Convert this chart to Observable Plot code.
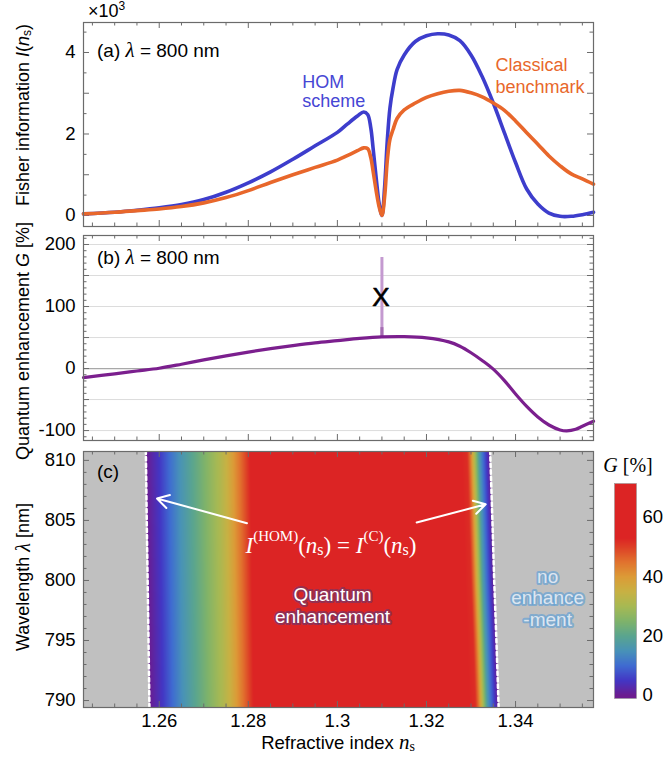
<!DOCTYPE html>
<html><head><meta charset="utf-8">
<script src="https://cdn.jsdelivr.net/npm/d3@7"></script>
<script src="https://cdn.jsdelivr.net/npm/@observablehq/plot@0.6"></script>
<style>
body{margin:0;background:#fff;}
#wrap{position:relative;width:663px;height:760px;overflow:hidden;background:#fff}
#wrap svg{position:absolute;}
</style></head><body><div id="wrap"></div>
<script>
// ---------------- data ----------------
const nA = [1.243,1.25,1.255,1.26,1.265,1.27,1.275,1.28,1.285,1.29,1.295,1.30,1.3022,1.3045,1.3059,1.3068,1.3075,1.308,1.3087,1.3094,1.31,1.3106,1.3112,1.3118,1.3125,1.3134,1.315,1.3175,1.32,1.3225,1.325,1.3275,1.33,1.3325,1.335,1.3375,1.34,1.3425,1.345,1.3475,1.35,1.3525,1.355,1.3575];
const fisherHOM = [0.04,0.08,0.13,0.19,0.27,0.39,0.57,0.80,1.07,1.38,1.71,2.04,2.24,2.44,2.54,2.48,2.15,1.67,0.93,0.28,0.00,0.69,1.83,2.64,3.13,3.58,3.94,4.27,4.41,4.46,4.43,4.29,3.94,3.41,2.76,2.03,1.30,0.65,0.28,0.06,-0.02,-0.02,0.02,0.08];
const fisherClassical = [0.04,0.08,0.12,0.16,0.22,0.31,0.44,0.61,0.81,1.00,1.18,1.36,1.47,1.59,1.66,1.64,1.42,1.10,0.61,0.20,0.00,0.45,1.34,1.87,2.11,2.38,2.59,2.76,2.90,2.99,3.05,3.07,3.01,2.91,2.76,2.58,2.32,2.03,1.75,1.46,1.22,1.02,0.90,0.77];

const nB = [1.243,1.25,1.255,1.26,1.265,1.27,1.275,1.28,1.285,1.29,1.295,1.30,1.305,1.31,1.315,1.32,1.325,1.3275,1.33,1.3325,1.335,1.3375,1.34,1.3425,1.345,1.3475,1.35,1.3515,1.3535,1.355,1.3575];
const gainG = [-14.5,-8.5,-4,0.5,7,14,20.5,26.5,32,37,41.5,45,48.5,51,51.5,49.5,43,36,25.5,13,-1,-19.5,-41,-61,-78,-91,-99,-100.5,-98,-93,-85];
const spikeN = [1.31];
const spikeRange = [51, 179];
const spikeCore = [51, 66];

const heatLambda = [789.42, 795, 800, 805, 810.74];
const edgeLeft  = [1.2578, 1.2576, 1.2574, 1.2572, 1.2570];
const edgeRight = [1.3362, 1.3357, 1.3352, 1.3348, 1.3343];
const leftBandOffset = [0,0.0030,0.0052,0.0075,0.0098,0.0121,0.0143,0.0165,0.0181,0.0196,0.0211,0.0223,0.0234];
const leftBandG      = [0,5,10,15,19,23,27,31,35,40,45,49,53];
const plateauN = [1.29, 1.30, 1.31, 1.32];
const plateauG = [60, 66, 66, 60];
const rightBandOffset = [-0.0052,-0.0045,-0.0038,-0.0031,-0.0025,-0.0016,-0.0007,0];
const rightBandG      = [52,45,35,25,17,10,4,0];
const outsideG = -40;

// ticks
const xTickLabels = [1.26, 1.28, 1.3, 1.32, 1.34];
const xTicksMinor = [1.245,1.25,1.255,1.265,1.27,1.275,1.285,1.29,1.295,1.305,1.31,1.315,1.325,1.33,1.335,1.345,1.35,1.355];
const yTickLabelsA = [0, 2, 4];
const yTicksA = [0,1,2,3,4];
const yTickLabelsB = [-100, 0, 100, 200];
const yTicksB = [-100,-50,0,50,100,150,200];
const gridB = [-100,-50,50,100,150,200];
const yTickLabelsC = [790, 795, 800, 805, 810];
const cbTickLabels = [0, 20, 40, 60];

// colour map G [%]
const gStops  = [-40, -0.01, 0, 5, 10, 15, 20, 25, 30, 35, 40, 45, 50, 53, 75];
const gColors = ["#c0c0c0","#c0c0c0","#6c1b8f","#4336c4","#3f6bd1","#4892b8","#5aa58f","#7fb36a","#a7b953","#c8b143","#dc9b37","#e1722e","#dd3f26","#dc2424","#dc2424"];

// ---------------- layout / styles ----------------
const SANS = "Liberation Sans, Arial, Helvetica, sans-serif";
const SERIF = "Liberation Serif, Times New Roman, serif";
const X_DOMAIN = [1.243, 1.3575];
const AX = "#6b6b6b";
const BLUE = "#3d3dcc", BLUE_T = "#4646d4", ORANGE = "#e8672b", PURPLE = "#7b1f8e";
const ML = 83, MR = 70, FW = 663 - ML - MR;

function frameTicks(xMajor, xMinor, yMajor, yMinor, fw, fh) {
  const s = {stroke: AX, strokeWidth: 1};
  const M = 6, m = 3.5;
  return [
    Plot.tickX(xMajor, {x: d => d, insetTop: fh - M, ...s}),
    Plot.tickX(xMajor, {x: d => d, insetBottom: fh - M, ...s}),
    Plot.tickX(xMinor, {x: d => d, insetTop: fh - m, ...s}),
    Plot.tickX(xMinor, {x: d => d, insetBottom: fh - m, ...s}),
    Plot.tickY(yMajor, {y: d => d, insetRight: fw - M, ...s}),
    Plot.tickY(yMajor, {y: d => d, insetLeft: fw - M, ...s}),
    Plot.tickY(yMinor, {y: d => d, insetRight: fw - m, ...s}),
    Plot.tickY(yMinor, {y: d => d, insetLeft: fw - m, ...s})
  ];
}
const yLabels = (arr) => Plot.text(arr, {y: d => d, text: d => String(d), frameAnchor: "left", dx: -8, textAnchor: "end", fontSize: 18.5, fill: "#000"});
const colorOpts = {type: "linear", domain: gStops, range: gColors, interpolate: "rgb", clamp: true};
const wrap = document.getElementById("wrap");
function place(svg, left, top) { svg.style.left = left + "px"; svg.style.top = top + "px"; svg.style.background = "transparent"; svg.style.overflow = "visible"; wrap.appendChild(svg); }

// ---------------- panel (a) ----------------
const rowsA = nA.map((n, i) => ({n, hom: fisherHOM[i], cls: fisherClassical[i]}));
const hA = 230, mtA = 22, mbA = 4;
const plotA = Plot.plot({
  width: 663, height: hA, marginLeft: ML, marginRight: MR, marginTop: mtA, marginBottom: mbA,
  style: {fontFamily: SANS},
  x: {domain: X_DOMAIN, axis: null},
  y: {domain: [-0.27, 4.736], axis: null},
  marks: [
    ...frameTicks(xTickLabels, xTicksMinor, yTicksA, [0.5,1.5,2.5,3.5,4.5], FW, hA - mtA - mbA),
    Plot.line(rowsA, {x: "n", y: "hom", stroke: BLUE, strokeWidth: 3.6, curve: "catmull-rom"}),
    Plot.line(rowsA, {x: "n", y: "cls", stroke: ORANGE, strokeWidth: 3.6, curve: "catmull-rom"}),
    yLabels(yTickLabelsA),
    Plot.text([{n: 1.2921, v: 3.05, t: "HOM\nscheme"}], {x: "n", y: "v", text: "t", textAnchor: "start", fontSize: 18, lineHeight: 1.1, fill: BLUE_T}),
    Plot.text([{n: 1.3355, v: 3.44, t: "Classical\nbenchmark"}], {x: "n", y: "v", text: "t", textAnchor: "start", fontSize: 18, lineHeight: 1.2, fill: ORANGE}),
    Plot.frame({stroke: AX, strokeWidth: 1.2})
  ]
});
place(plotA, 0, 0);

// ---------------- panel (b) ----------------
const rowsB = nB.map((n, i) => ({n, g: gainG[i]}));
const hB = 214, mtB = 5, mbB = 4;
const plotB = Plot.plot({
  width: 663, height: hB, marginLeft: ML, marginRight: MR, marginTop: mtB, marginBottom: mbB,
  style: {fontFamily: SANS},
  x: {domain: X_DOMAIN, axis: null},
  y: {domain: [-116, 214.5], axis: null},
  marks: [
    Plot.ruleY(gridB, {stroke: "#dcdcdc", strokeWidth: 1}),
    Plot.ruleY([0], {stroke: "#a8a8a8", strokeWidth: 1.2}),
    ...frameTicks(xTickLabels, xTicksMinor, yTicksB, d3.range(-110, 215, 10).filter(v => v % 50 !== 0), FW, hB - mtB - mbB),
    Plot.ruleX(spikeN, {y1: spikeRange[0], y2: spikeRange[1], stroke: "#c49ad0", strokeWidth: 3}),
    Plot.ruleX(spikeN, {y1: spikeCore[0], y2: spikeCore[1], stroke: "#a56cb2", strokeWidth: 3}),
    Plot.line(rowsB, {x: "n", y: "g", stroke: PURPLE, strokeWidth: 3.2, curve: "catmull-rom"}),
    Plot.text([{n: 1.3098, g: 114.5, t: "X"}], {x: "n", y: "g", text: "t", fontSize: 26, fill: "#000", stroke: "#000", strokeWidth: 0.6}),
    yLabels(yTickLabelsB),
    Plot.frame({stroke: AX, strokeWidth: 1.2})
  ]
});
place(plotB, 0, 230);

// ---------------- panel (c) ----------------
const heat = [];
heatLambda.forEach((lam, i) => {
  heat.push({n: X_DOMAIN[0], lam, g: outsideG});
  leftBandOffset.forEach((o, k) => heat.push({n: edgeLeft[i] + o, lam, g: leftBandG[k]}));
  plateauN.forEach((n, k) => heat.push({n, lam, g: plateauG[k]}));
  rightBandOffset.forEach((o, k) => heat.push({n: edgeRight[i] + o, lam, g: rightBandG[k]}));
  heat.push({n: X_DOMAIN[1], lam, g: outsideG});
});
const edgeL = heatLambda.map((lam, i) => ({lam, n: edgeLeft[i]}));
const edgeR = heatLambda.map((lam, i) => ({lam, n: edgeRight[i]}));
const arrows = [
  {x1: 1.2797, y1: 804.77, x2: 1.2595, y2: 806.83},
  {x1: 1.3178, y1: 804.82, x2: 1.3333, y2: 806.34}
];
const hC = 316, mtC = 7, mbC = 53, wC = 600, mrC = 7;
const plotC = Plot.plot({
  width: wC, height: hC, marginLeft: ML, marginRight: mrC, marginTop: mtC, marginBottom: mbC,
  style: {fontFamily: SANS},
  x: {domain: X_DOMAIN, axis: null},
  y: {domain: [789.42, 810.74], axis: null},
  color: colorOpts,
  marks: [
    Plot.raster(heat, {x: "n", y: "lam", fill: "g", interpolate: "barycentric"}),
    Plot.line(edgeL, {x: "n", y: "lam", stroke: "white", strokeWidth: 2.5, strokeDasharray: "3.5,3"}),
    Plot.line(edgeR, {x: "n", y: "lam", stroke: "white", strokeWidth: 2.5, strokeDasharray: "3.5,3"}),
    Plot.arrow(arrows, {x1: "x1", y1: "y1", x2: "x2", y2: "y2", stroke: "white", strokeWidth: 2, headLength: 10}),
    Plot.text([{n: 1.2989, lam: 797.98, t: "Quantum\nenhancement"}], {x: "n", y: "lam", text: "t", fontSize: 19, lineHeight: 1.2, fill: "white", stroke: "#5b3a78", strokeWidth: 4, strokeOpacity: 0.55, paintOrder: "stroke"}),
    Plot.text([{n: 1.3472, lam: 798.6, t: "no\nenhance\n-ment"}], {x: "n", y: "lam", text: "t", fontSize: 19, lineHeight: 1.13, fill: "#dde6f1", stroke: "#5e9fd6", strokeWidth: 4, strokeOpacity: 0.65, paintOrder: "stroke"}),
    ...frameTicks(xTickLabels, xTicksMinor, yTickLabelsC, d3.range(790, 811, 1).filter(v => v % 5 !== 0), wC - ML - mrC, hC - mtC - mbC),
    yLabels(yTickLabelsC),
    Plot.text(xTickLabels, {x: d => d, text: d => String(d), frameAnchor: "bottom", dy: 6, lineAnchor: "top", fontSize: 18.5, fill: "#000"}),
    Plot.frame({stroke: AX, strokeWidth: 1.2})
  ]
});
place(plotC, 0, 444);

// ---------------- colour bar ----------------
const cbDomain = [-1, 71.4];
const plotCB = Plot.plot({
  width: 63, height: 316, marginLeft: 14, marginRight: 27, marginTop: 39, marginBottom: 62,
  style: {fontFamily: SANS},
  x: {domain: [0, 1], axis: null},
  y: {domain: cbDomain, axis: null},
  color: colorOpts,
  marks: [
    Plot.raster({x1: 0, x2: 1, y1: cbDomain[0], y2: cbDomain[1], fill: (x, y) => Math.max(0, y)}),
    Plot.text(cbTickLabels, {y: d => d, text: d => String(d), frameAnchor: "right", dx: 6, textAnchor: "start", fontSize: 18.5, fill: "#000"}),
    Plot.frame({stroke: "#999", strokeWidth: 0.6})
  ]
});
place(plotCB, 600, 444);

// ---------------- text overlay ----------------
const ov = d3.select(wrap).append("svg").attr("width", 663).attr("height", 760)
  .style("left", "0px").style("top", "0px").style("pointer-events", "none")
  .attr("font-family", SANS);
function label(x, y, parts, o = {}) {
  const t = ov.append("text").attr("x", x).attr("y", y).attr("font-size", o.size || 18)
    .attr("text-anchor", o.anchor || "start").attr("dominant-baseline", o.baseline || "central")
    .attr("fill", o.fill || "#000");
  if (o.rotate) t.attr("transform", `rotate(-90,${x},${y})`);
  if (o.family) t.attr("font-family", o.family);
  parts.forEach(p => {
    const s = t.append("tspan").text(p.t);
    if (p.i) s.attr("font-style", "italic");
    if (p.f) s.attr("font-family", p.f);
    if (p.s) s.attr("font-size", p.s);
    if (p.dy) s.attr("dy", p.dy);
  });
}
label(88, 17, [{t: "×10"}, {t: "3", s: 12, dy: -7}], {baseline: "alphabetic"});
label(97, 50, [{t: "(a) "}, {t: "λ", i: 1, f: SERIF, s: 21}, {t: " = 800 nm"}], {size: 19});
label(97, 257, [{t: "(b) "}, {t: "λ", i: 1, f: SERIF, s: 21}, {t: " = 800 nm"}], {size: 19});
label(97, 471, [{t: "(c)"}], {size: 19});
label(23, 115, [{t: "Fisher information "}, {t: "I", i: 1}, {t: "("}, {t: "n", i: 1}, {t: "s", s: 12, dy: 4}, {t: ")", dy: -4}], {anchor: "middle", rotate: 1});
label(23, 341, [{t: "Quantum enhancement "}, {t: "G", i: 1}, {t: " [%]"}], {anchor: "middle", rotate: 1});
label(23, 577, [{t: "Wavelength "}, {t: "λ", i: 1, f: SERIF, s: 20}, {t: " [nm]"}], {anchor: "middle", rotate: 1});
label(338, 742, [{t: "Refractive index "}, {t: "n", i: 1, f: SERIF, s: 21}, {t: "s", f: SERIF, s: 14, dy: 4}], {anchor: "middle", size: 18.5});
label(628, 465, [{t: "G", i: 1}, {t: " [%]"}], {anchor: "middle", family: SERIF, size: 20});
label(331, 545, [
  {t: "I", i: 1}, {t: "(HOM)", s: 15, dy: -9}, {t: "(", dy: 9}, {t: "n", i: 1}, {t: "s", s: 16, dy: 4}, {t: ")", dy: -4},
  {t: " = "}, {t: "I", i: 1}, {t: "(C)", s: 15, dy: -9}, {t: "(", dy: 9}, {t: "n", i: 1}, {t: "s", s: 16, dy: 4}, {t: ")", dy: -4}
], {anchor: "middle", family: SERIF, size: 23, fill: "white"});
</script></body></html>
